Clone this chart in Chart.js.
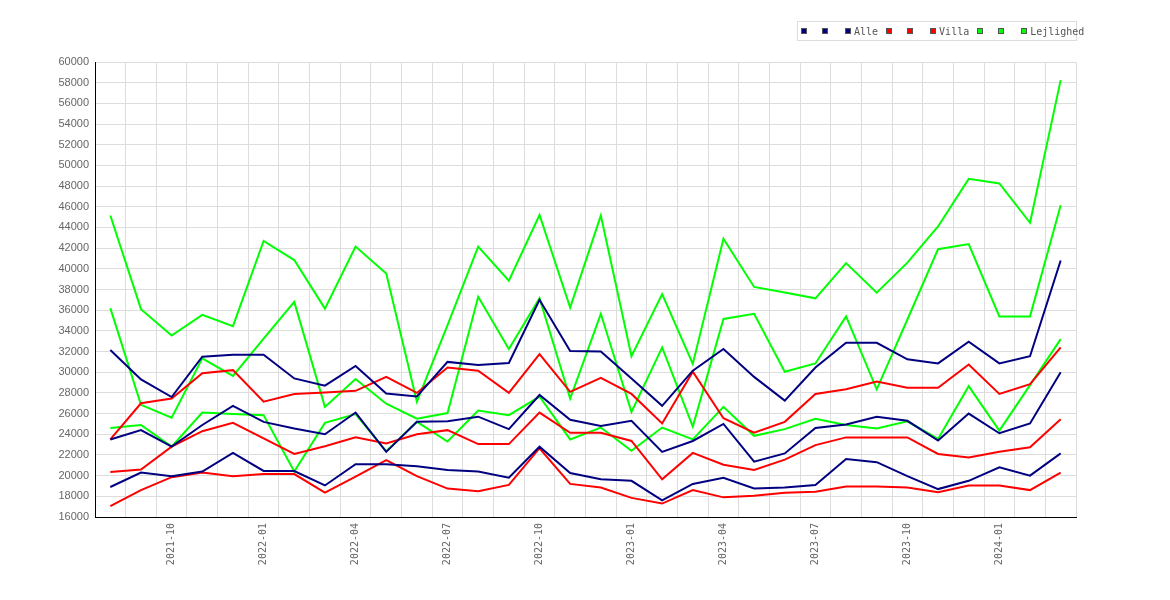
<!DOCTYPE html>
<html lang="da">
<head>
<meta charset="UTF-8">
<title>Kvadratmeterpriser</title>
<script src="https://cdn.jsdelivr.net/npm/chart.js"></script>
<style>
    body { margin: 0; background: #fff; }
    .wrap { position: relative; width: 1170px; height: 600px; }
    .legend {
        position: absolute; left: 797px; top: 21px; width: 280px; height: 20px;
        border: 1px solid #dddddd; font: 10px "DejaVu Sans Mono", monospace; color: #555;
        display: flex; align-items: center; padding-left: 3px; box-sizing: border-box; white-space: nowrap;
    }
    .legend .item { display: flex; align-items: center; }
    .legend .box { width: 6px; height: 6px; border: 1px solid #555; box-sizing: border-box; }
    .legend .txt { margin-left: 3px; }
</style>
</head>
<body>
<div class="wrap">
    <canvas id="chart" width="1170" height="600"></canvas>
    <div class="legend" id="legend"></div>
</div>

<script>
const months = ['2021-08', '2021-09', '2021-10', '2021-11', '2021-12', '2022-01', '2022-02', '2022-03',
    '2022-04', '2022-05', '2022-06', '2022-07', '2022-08', '2022-09', '2022-10', '2022-11', '2022-12',
    '2023-01', '2023-02', '2023-03', '2023-04', '2023-05', '2023-06', '2023-07', '2023-08', '2023-09',
    '2023-10', '2023-11', '2023-12', '2024-01', '2024-02', '2024-03'];

// Alle
const alleHigh = [32150, 29300, 27600, 31500, 31700, 31700, 29400, 28700, 30600, 27950, 27650, 31000, 30700, 30900, 37000, 32050,
    32000, 29400, 26750, 30150, 32250, 29550, 27250, 30450, 32850, 32850, 31250, 30850, 32950, 30850, 31550, 40800];
const alleMid = [23500, 24400, 22800, 24900, 26750, 25200, 24550, 24000, 26100, 22300, 25200, 25250, 25700, 24500, 27800, 25400,
    24800, 25300, 22300, 23350, 25000, 21350, 22150, 24600, 24950, 25700, 25300, 23400, 26000, 24100, 25050, 30000];
const alleLow = [18900, 20300, 19950, 20400, 22200, 20450, 20450, 19050, 21100, 21100, 20900, 20550, 20400, 19800, 22800, 20250,
    19650, 19500, 17600, 19200, 19800, 18750, 18850, 19100, 21600, 21300, 19950, 18700, 19500, 20800, 20000, 22150];

// Villa
const villaHigh = [23500, 27000, 27450, 29900, 30200, 27150, 27900, 28050, 28200, 29550, 28000, 30450, 30150, 28000, 31750, 28100,
    29450, 27900, 25050, 30050, 25550, 24150, 25200, 27900, 28350, 29100, 28500, 28500, 30750, 27900, 28850, 32400];
const villaMid = [20350, 20600, 22800, 24300, 25100, 23600, 22100, 22850, 23700, 23100, 24000, 24400, 23050, 23050, 26100, 24150,
    24150, 23350, 19650, 22200, 21050, 20550, 21550, 22950, 23700, 23700, 23700, 22100, 21750, 22300, 22750, 25450];
const villaLow = [17050, 18600, 19850, 20300, 19950, 20150, 20150, 18350, 19900, 21500, 19950, 18750, 18500, 19100, 22650, 19200,
    18850, 17850, 17300, 18600, 17900, 18050, 18350, 18450, 18950, 18950, 18850, 18400, 19050, 19050, 18600, 20300];

// Lejlighed
const lejlHigh = [45150, 36100, 33550, 35550, 34450, 42700, 40850, 36150, 42150, 39550, 27150, 34550, 42150, 38850, 45200, 36250,
    45150, 31550, 37550, 30800, 42900, 38250, 37700, 37150, 40550, 37700, 40600, 44100, 48700, 48250, 44450, 58250];
const lejlMid = [36200, 26850, 25600, 31350, 29650, 33250, 36800, 26650, 29350, 26950, 25500, 26050, 37300, 32250, 37150, 27450,
    35650, 26150, 32400, 24750, 35150, 35650, 30050, 30850, 35400, 28350, 35100, 41900, 42400, 35400, 35400, 46150];
const lejlLow = [24600, 24900, 22800, 26100, 25950, 25850, 20400, 25100, 25950, 22350, 25200, 23300, 26300, 25850, 27650, 23500,
    24650, 22400, 24650, 23500, 26650, 23850, 24500, 25500, 24900, 24550, 25250, 23550, 28650, 24350, 28750, 33200];

const seriesLabels = ['', '', 'Alle', '', '', 'Villa', '', '', 'Lejlighed'];
const seriesColors = ['#000080', '#000080', '#000080', '#ff0000', '#ff0000', '#ff0000', '#00ff00', '#00ff00', '#00ff00'];
const seriesData = [alleHigh, alleMid, alleLow, villaHigh, villaMid, villaLow, lejlHigh, lejlMid, lejlLow];

const datasets = seriesData.map((d, i) => ({
    label: seriesLabels[i],
    data: d,
    borderColor: seriesColors[i],
    backgroundColor: seriesColors[i],
    borderWidth: 2,
    pointRadius: 0,
    tension: 0,
    fill: false
}));

// legend i html, som i originalen
const legend = document.getElementById('legend');
seriesLabels.forEach((lab, i) => {
    const item = document.createElement('span');
    item.className = 'item';
    const box = document.createElement('span');
    box.className = 'box';
    box.style.background = seriesColors[i];
    item.appendChild(box);
    if (lab) {
        const t = document.createElement('span');
        t.className = 'txt';
        t.textContent = lab;
        item.appendChild(t);
        item.style.marginRight = '8px';
    } else {
        item.style.marginRight = (i % 3 === 0) ? '15px' : '17px';
    }
    legend.appendChild(item);
});

new Chart(document.getElementById('chart'), {
    type: 'line',
    data: { labels: months, datasets: datasets },
    options: {
        responsive: false,
        animation: false,
        layout: { padding: { top: 62, right: 94, bottom: 0, left: 0 } },
        plugins: { legend: { display: false }, tooltip: { enabled: false } },
        scales: {
            x: {
                offset: true,
                afterFit: s => { s.height = 83; },
                grid: { color: '#dddddd', offset: true, drawTicks: false },
                border: { color: '#000000', width: 1 },
                ticks: {
                    autoSkip: false,
                    maxRotation: 90,
                    minRotation: 90,
                    padding: 6,
                    color: '#666666',
                    font: { family: 'DejaVu Sans Mono', size: 10 },
                    callback: function (v) {
                        const m = months[v];
                        return /-(01|04|07|10)$/.test(m) ? m : '';
                    }
                }
            },
            y: {
                min: 16000,
                max: 60000,
                afterFit: s => { s.width = 95; },
                grid: { color: '#dddddd', drawTicks: false },
                border: { color: '#000000', width: 1 },
                ticks: {
                    stepSize: 2000,
                    padding: 6,
                    color: '#666666',
                    font: { family: 'Liberation Sans', size: 11 },
                    callback: v => String(v)
                }
            }
        }
    }
});
</script>
</body>
</html>
